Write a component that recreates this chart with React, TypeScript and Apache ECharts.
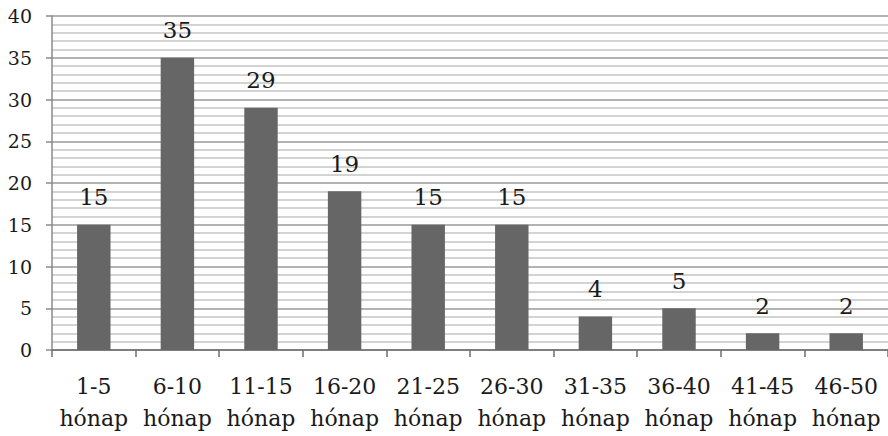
import React, { useEffect, useRef } from "react";
import * as echarts from "echarts";

const categories = [
  "1-5\nhónap",
  "6-10\nhónap",
  "11-15\nhónap",
  "16-20\nhónap",
  "21-25\nhónap",
  "26-30\nhónap",
  "31-35\nhónap",
  "36-40\nhónap",
  "41-45\nhónap",
  "46-50\nhónap",
];
const values = [15, 35, 29, 19, 15, 15, 4, 5, 2, 2];
const yMin = 0;
const yMax = 40;
const yInterval = 5;

const FONT = "DejaVu Serif";

export default function App() {
  const ref = useRef<HTMLDivElement>(null);
  useEffect(() => {
    document.body.style.margin = "0";
    if (!ref.current) return;
    const chart = echarts.init(ref.current, null, { renderer: "svg" });
    chart.setOption({
      animation: false,
      backgroundColor: "#ffffff",
      textStyle: { fontFamily: FONT },
      grid: { left: 52, right: 0, top: 16, bottom: 86, containLabel: false },
      xAxis: {
        type: "category",
        data: categories,
        axisLine: { show: true, lineStyle: { color: "#6e6e6e", width: 1.5 } },
        axisTick: { show: true, length: 7, lineStyle: { color: "#6e6e6e", width: 1.5 } },
        axisLabel: {
          color: "#1a1a1a",
          fontFamily: FONT,
          fontSize: 22,
          lineHeight: 32,
          margin: 20,
          interval: 0,
        },
      },
      yAxis: {
        type: "value",
        min: yMin,
        max: yMax,
        interval: yInterval,
        axisLine: { show: true, lineStyle: { color: "#8a8a8a", width: 1.5 } },
        axisTick: { show: true, length: 6, lineStyle: { color: "#8a8a8a", width: 1.5 } },
        axisLabel: {
          color: "#1a1a1a",
          fontFamily: FONT,
          fontSize: 19,
          margin: 20,
        },
        splitLine: { show: true, lineStyle: { color: "#9a9a9a", width: 1.5 } },
        minorTick: { show: false, splitNumber: 5 },
        minorSplitLine: { show: true, lineStyle: { color: "#c4c4c4", width: 1.5 } },
      },
      series: [
        {
          type: "bar",
          data: values,
          barWidth: "40%",
          itemStyle: { color: "#666666" },
          label: {
            show: true,
            position: "top",
            distance: 16,
            color: "#1a1a1a",
            fontFamily: FONT,
            fontSize: 23,
          },
        },
      ],
    });
    return () => chart.dispose();
  }, []);
  return <div ref={ref} style={{ width: 888, height: 436 }} />;
}
